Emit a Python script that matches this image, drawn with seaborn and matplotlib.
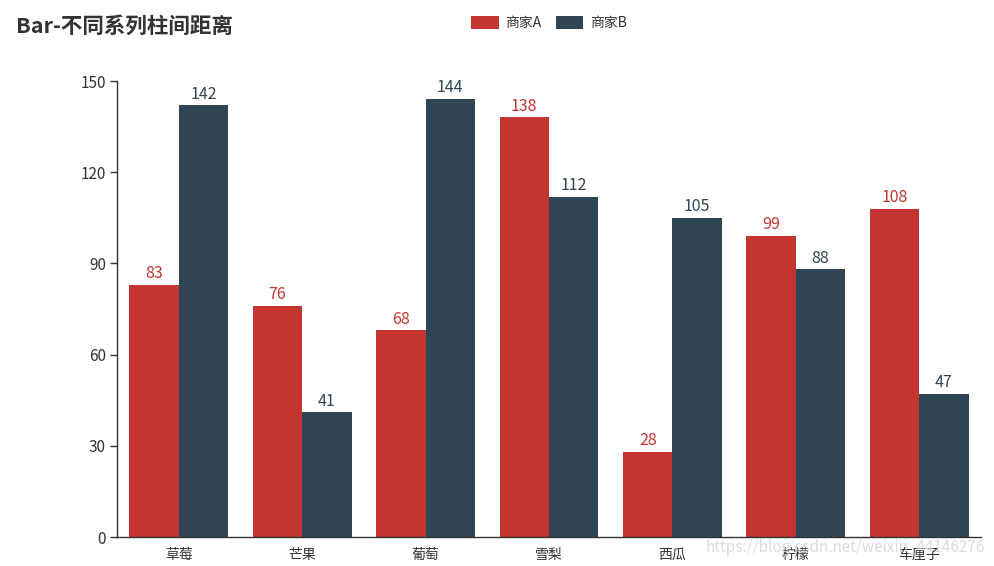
import matplotlib
matplotlib.use("Agg")
import matplotlib.pyplot as plt
import seaborn as sns
import pandas as pd
from matplotlib.patches import Patch

categories = ["草莓", "芒果", "葡萄", "雪梨", "西瓜", "柠檬", "车厘子"]
series_a = [83, 76, 68, 138, 28, 99, 108]
series_b = [142, 41, 144, 112, 105, 88, 47]
series_names = ["商家A", "商家B"]
yticks = [0, 30, 60, 90, 120, 150]
title = "Bar-不同系列柱间距离"

colors = ["#c23531", "#2f4554"]

sns.set_theme(style="white")
plt.rcParams['font.family'] = ['Noto Sans CJK SC', 'DejaVu Sans']

df = pd.DataFrame({
    "cat": categories * 2,
    "val": series_a + series_b,
    "series": [series_names[0]] * len(categories) + [series_names[1]] * len(categories),
})

fig = plt.figure(figsize=(9.95, 5.66), dpi=100)
ax = fig.add_axes([117/995, 1 - 537/566, (981-117)/995, (537-81)/566])

sns.barplot(data=df, x="cat", y="val", hue="series", palette=colors,
            width=0.8, gap=0, ax=ax, legend=False, saturation=1,
            edgecolor="none", linewidth=0)

for cont, col in zip(ax.containers, colors):
    ax.bar_label(cont, labels=[str(int(v)) for v in cont.datavalues],
                 padding=2, color=col, fontsize=11.5)

ax.set_xlim(-0.5, len(categories) - 0.5)
ax.set_ylim(0, 150)
ax.set_yticks(yticks)
ax.set_xlabel("")
ax.set_ylabel("")

ax.set_xticks([i - 0.5 for i in range(len(categories) + 1)], minor=True)
ax.tick_params(axis="x", which="minor", length=5, width=1, color="#333333", direction="out")
ax.tick_params(axis="x", which="major", length=0, pad=8, labelsize=10, labelcolor="#333333")
ax.tick_params(axis="y", which="major", length=5, width=1, color="#333333", direction="out",
               labelsize=11, labelcolor="#333333", pad=3)
ax.tick_params(bottom=True, left=True)

for s in ["top", "right"]:
    ax.spines[s].set_visible(False)
for s in ["left", "bottom"]:
    ax.spines[s].set_color("#333333")
    ax.spines[s].set_linewidth(1)
ax.grid(False)

fig.text(16/995, 1 - 26/566, title, fontsize=15.5, fontweight="bold", color="#333333",
         va="center", ha="left")

handles = [Patch(facecolor=c, edgecolor="none") for c in colors]
fig.legend(handles, series_names, loc="center", bbox_to_anchor=(549/995, 1 - 23/566),
           ncol=2, frameon=False, fontsize=10, handlelength=2.0, handleheight=1.1,
           columnspacing=1.0, handletextpad=0.5, labelcolor="#333333")

fig.text(985/995, 1 - 548/566, "https://blog.csdn.net/weixin_44146276", fontsize=11,
         color="#cccccc", alpha=0.7, ha="right", va="center", zorder=10)

fig.savefig("out.png", dpi=100)
